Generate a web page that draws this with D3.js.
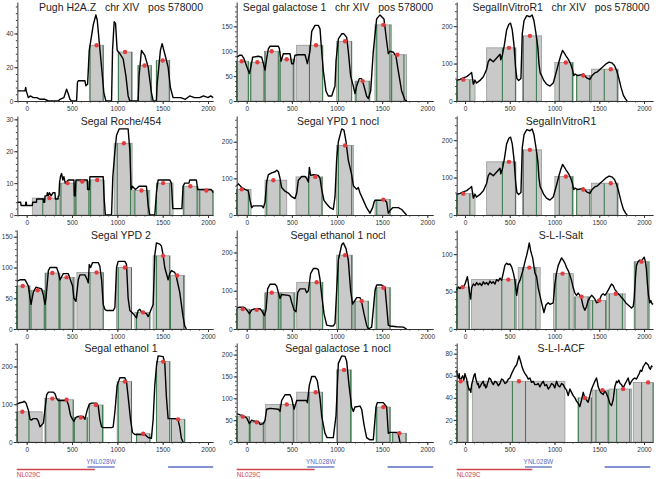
<!DOCTYPE html>
<html><head><meta charset="utf-8">
<script src="https://cdn.jsdelivr.net/npm/d3@7"></script>
<style>body{margin:0;background:#fff} text{font-family:"Liberation Sans",Arial,sans-serif}</style>
</head><body><svg id="c" width="660" height="479"></svg>
<script>
// ---------- DATA ----------
const panelTitles = [
  "Pugh H2A.Z   chr XIV   pos 578000", "Segal galactose 1   chr XIV   pos 578000", "SegalInVitroR1   chr XIV   pos 578000",
  "Segal Roche/454", "Segal YPD 1 nocl", "SegalInVitroR1",
  "Segal YPD 2", "Segal ethanol 1 nocl", "S-L-I-Salt",
  "Segal ethanol 1", "Segal galactose 1 nocl", "S-L-I-ACF"
];
const xTickLabels = [0, 500, 1000, 1500, 2000];
const yTickStep = [20, 50, 100, 10, 100, 100, 50, 100, 50, 100, 50, 20];

// occupancy profiles: [position, value]
const profPugh = [[-103,6],[-18,6],[-11,8],[-5,6],[18,2],[40,3],[73,2],[110,2],[150,1],[202,1],[239,0],[349,0],[367,1],[410,2],[440,7],[460,4],[477,1],[495,0],[550,0],[560,11],[569,12],[642,12],[653,9],[672,10],[690,30],[734,45],[763,51],[778,48],[800,35],[826,20],[851,5],[873,0],[936,0],[947,30],[965,47],[980,46],[998,30],[1028,28],[1064,25],[1094,15],[1119,3],[1138,0],[1229,0],[1240,15],[1266,30],[1303,27],[1340,20],[1376,5],[1395,0],[1431,0],[1439,10],[1475,30],[1494,34],[1523,28],[1560,20],[1585,8],[1615,2],[1700,2],[1750,1],[1798,3],[1850,2],[1908,2],[1950,3],[2000,2],[2030,3],[2057,2]];
const profGal1 = [[-111,88],[-74,92],[-55,92],[-30,85],[0,70],[30,55],[48,70],[66,88],[129,90],[166,88],[185,75],[203,62],[221,85],[240,105],[258,110],[351,110],[362,105],[380,80],[406,95],[480,95],[498,75],[517,75],[535,92],[572,93],[646,93],[672,75],[701,100],[720,140],[756,152],[793,152],[812,145],[830,100],[849,60],[878,20],[904,10],[941,10],[978,30],[989,80],[1015,125],[1052,135],[1077,135],[1107,128],[1125,100],[1151,50],[1181,30],[1199,15],[1218,30],[1247,45],[1273,45],[1299,30],[1328,10],[1347,5],[1373,20],[1402,100],[1439,165],[1476,173],[1520,165],[1550,120],[1568,95],[1587,100],[1624,98],[1653,90],[1679,60],[1716,20],[1753,2],[1775,0]];
const profInVitro = [[-93,55],[-56,58],[-19,62],[19,65],[56,72],[74,76],[93,45],[112,55],[130,48],[167,55],[205,65],[242,85],[260,105],[279,112],[316,105],[354,115],[391,125],[400,110],[420,125],[440,150],[465,190],[490,205],[509,208],[528,190],[547,150],[565,90],[580,60],[600,55],[625,60],[640,180],[660,215],[690,228],[725,225],[750,230],[770,215],[790,185],[805,160],[815,140],[826,100],[840,75],[856,68],[880,55],[911,45],[949,40],[986,48],[1023,80],[1050,105],[1068,120],[1090,135],[1110,128],[1130,120],[1153,112],[1179,100],[1200,85],[1215,68],[1230,72],[1260,68],[1290,70],[1321,72],[1358,62],[1395,58],[1420,68],[1450,75],[1480,78],[1510,85],[1544,92],[1581,100],[1610,104],[1640,102],[1670,95],[1693,82],[1720,60],[1745,35],[1770,15],[1795,5],[1812,0]];
const profRoche = [[-103,4],[-66,4],[-62,3],[-12,3],[-10,4],[-4,4],[-2,3],[62,3],[66,4],[108,4],[110,5],[184,5],[188,4],[198,4],[202,6],[222,6],[228,7],[239,6],[250,7],[270,6],[290,7],[312,7],[316,5],[345,5],[349,6],[356,6],[362,10],[372,12],[385,13],[398,11],[410,12],[425,10],[459,11],[521,11],[525,6],[535,6],[543,11],[668,11],[672,8],[690,8],[697,12],[844,12],[855,5],[868,0],[936,0],[950,12],[973,20],[991,25],[1020,27],[1119,27],[1138,20],[1152,8],[1165,9],[1200,8],[1240,9],[1321,9],[1340,3],[1358,0],[1413,0],[1431,7],[1450,11],[1578,11],[1596,10],[1612,2],[1712,2],[1725,9],[1743,10],[1790,10],[1800,11],[1872,11],[1886,8],[2037,8],[2057,7]];
const profYPD1 = [[-111,80],[-92,85],[-55,75],[-18,70],[18,66],[37,40],[55,20],[74,25],[166,25],[185,20],[203,35],[221,90],[240,110],[277,115],[314,118],[332,122],[351,118],[369,100],[387,75],[424,65],[461,60],[498,50],[535,45],[554,60],[572,95],[609,105],[646,105],[664,100],[683,90],[694,130],[708,108],[738,110],[793,108],[812,100],[830,70],[856,40],[886,30],[923,20],[959,15],[978,50],[996,150],[1015,200],[1052,235],[1077,232],[1100,200],[1125,150],[1162,110],[1181,80],[1218,70],[1236,75],[1255,60],[1292,40],[1328,20],[1365,5],[1395,20],[1410,35],[1421,40],[1531,40],[1550,35],[1568,5],[1587,12],[1616,20],[1679,20],[1716,15],[1753,5],[1771,0]];
const profYPD2 = [[-110,78],[-73,80],[-18,80],[0,75],[18,70],[37,50],[48,40],[73,60],[103,68],[128,67],[165,65],[184,55],[202,40],[213,50],[239,95],[257,100],[330,100],[349,92],[367,80],[385,85],[404,90],[459,90],[477,82],[506,70],[521,50],[543,45],[569,80],[587,88],[642,88],[668,80],[679,75],[690,105],[705,100],[727,108],[789,108],[807,102],[826,80],[844,40],[862,32],[881,30],[954,30],[973,35],[991,100],[1009,110],[1083,110],[1101,105],[1119,50],[1138,30],[1174,25],[1211,18],[1229,30],[1248,32],[1266,28],[1321,25],[1340,20],[1395,40],[1413,120],[1431,140],[1468,138],[1486,135],[1505,120],[1523,100],[1560,80],[1578,90],[1596,95],[1633,92],[1651,85],[1688,60],[1725,20],[1743,5],[1761,0]];
const profEth1nocl = [[-111,55],[-74,57],[-37,57],[-18,55],[0,50],[30,40],[55,50],[92,53],[148,53],[166,48],[196,35],[214,50],[232,105],[258,117],[314,117],[332,112],[351,95],[369,80],[387,90],[461,88],[480,86],[498,70],[524,50],[546,45],[565,95],[590,105],[646,105],[664,95],[683,100],[708,145],[738,158],[775,158],[793,155],[812,130],[830,90],[856,40],[886,10],[923,8],[959,8],[978,15],[996,100],[1015,180],[1052,220],[1070,225],[1100,210],[1125,180],[1151,100],[1173,65],[1199,75],[1218,82],[1255,82],[1273,70],[1299,40],[1328,10],[1347,0],[1384,5],[1421,100],[1439,115],[1494,115],[1513,112],[1531,110],[1550,60],[1568,10],[1587,8],[1661,6],[1734,5],[1771,0]];
const profSalt = [[-93,52],[-74,56],[-56,54],[-37,57],[-19,56],[0,60],[11,64],[26,70],[37,62],[48,50],[63,40],[74,55],[93,60],[112,58],[130,62],[149,59],[167,61],[186,58],[205,63],[223,60],[242,62],[260,59],[279,64],[298,61],[316,63],[335,60],[353,66],[372,64],[391,68],[409,65],[428,75],[446,85],[465,88],[484,86],[502,87],[521,83],[540,75],[558,65],[577,45],[595,60],[614,65],[632,72],[651,80],[670,90],[688,98],[707,108],[718,115],[733,105],[744,100],[756,95],[781,75],[800,70],[818,55],[837,45],[856,35],[882,22],[904,32],[930,35],[949,33],[986,35],[1004,60],[1023,75],[1042,85],[1060,90],[1079,95],[1097,92],[1116,88],[1135,82],[1153,78],[1172,72],[1190,65],[1209,55],[1228,48],[1246,45],[1265,48],[1283,45],[1302,40],[1321,30],[1339,25],[1358,30],[1376,38],[1395,42],[1414,45],[1432,43],[1451,40],[1469,35],[1488,36],[1507,40],[1525,45],[1544,47],[1563,45],[1581,48],[1600,52],[1618,56],[1637,60],[1655,58],[1674,53],[1693,50],[1711,47],[1730,45],[1749,42],[1767,40],[1786,37],[1804,34],[1823,32],[1842,30],[1860,28],[1879,30],[1890,40],[1905,70],[1916,85],[1934,90],[1953,92],[1972,91],[1990,94],[2002,96],[2016,90],[2027,80],[2039,60],[2050,45],[2065,35],[2076,38],[2088,34],[2102,33]];
const profEth1 = [[-110,100],[-73,104],[-37,106],[-29,108],[-7,103],[18,85],[37,60],[55,58],[73,62],[110,62],[128,55],[147,40],[184,50],[220,125],[239,132],[294,132],[312,128],[330,115],[349,110],[440,110],[459,100],[484,70],[506,60],[521,55],[543,65],[569,68],[624,68],[642,60],[668,85],[690,100],[716,103],[771,103],[789,95],[807,60],[826,40],[844,38],[936,38],[954,40],[973,80],[998,150],[1028,170],[1083,170],[1101,160],[1119,120],[1145,60],[1167,25],[1193,20],[1266,20],[1285,18],[1303,20],[1340,12],[1376,10],[1395,60],[1413,150],[1431,200],[1450,228],[1505,226],[1523,210],[1541,120],[1560,62],[1578,62],[1651,62],[1670,58],[1688,40],[1706,10],[1725,0]];
const profGal1nocl = [[-111,65],[-74,62],[-37,60],[0,55],[30,42],[55,50],[74,48],[129,47],[148,40],[185,42],[203,50],[221,75],[260,77],[351,75],[369,70],[387,95],[424,108],[480,108],[498,100],[524,75],[554,95],[600,95],[664,95],[672,90],[694,130],[720,150],[756,150],[782,140],[812,100],[830,60],[867,20],[890,10],[959,10],[989,60],[1015,180],[1052,197],[1089,196],[1107,185],[1133,130],[1162,80],[1181,70],[1199,80],[1255,82],[1273,75],[1299,40],[1328,10],[1365,5],[1402,5],[1432,80],[1446,90],[1513,90],[1550,80],[1568,20],[1587,22],[1661,22],[1679,18],[1697,0]];
const profACF = [[-93,65],[-84,60],[-74,58],[-65,62],[-56,55],[-45,57],[-26,60],[-12,56],[0,62],[10,59],[19,57],[28,52],[37,50],[46,47],[56,48],[65,45],[74,52],[84,55],[93,58],[103,61],[112,62],[121,57],[130,55],[140,52],[149,53],[158,49],[167,50],[186,53],[205,55],[214,51],[223,52],[232,49],[242,50],[251,53],[260,55],[270,58],[286,57],[300,54],[316,52],[335,55],[353,54],[372,51],[391,53],[409,57],[428,56],[446,53],[465,54],[484,57],[502,58],[521,62],[539,65],[558,68],[577,70],[590,74],[603,78],[614,75],[625,72],[638,68],[651,65],[670,62],[688,60],[707,57],[725,58],[744,54],[763,55],[781,52],[800,52],[818,53],[837,50],[856,53],[874,55],[893,51],[911,52],[930,48],[949,50],[967,53],[986,52],[1004,49],[1023,55],[1042,51],[1060,50],[1079,53],[1097,52],[1116,49],[1135,47],[1153,42],[1172,48],[1190,45],[1209,42],[1228,40],[1246,37],[1265,35],[1283,32],[1302,38],[1321,45],[1339,40],[1358,38],[1376,36],[1395,42],[1410,47],[1425,50],[1451,55],[1469,58],[1480,54],[1488,50],[1514,45],[1530,44],[1544,43],[1560,46],[1574,45],[1590,42],[1600,40],[1618,35],[1637,33],[1655,38],[1674,50],[1693,55],[1705,54],[1719,56],[1733,53],[1748,52],[1762,50],[1774,50],[1790,53],[1804,55],[1823,58],[1841,52],[1860,55],[1878,57],[1897,58],[1915,57],[1934,60],[1947,62],[1960,65],[1975,64],[1990,68],[2005,70],[2020,72],[2033,71],[2046,70],[2060,67],[2072,66],[2084,69],[2094,68]];

// nucleosome calls: [boxStart, boxEnd, height, centre, dotShown]
const nucPugh = [[698,844,33,771,1],[1010,1163,29,1085,1],[1229,1376,21,1300,1],[1431,1578,24,1500,1]];
const nucGal1 = [[-111,20,80,-55,1],[37,196,78,118,1],[196,369,100,277,1],[369,535,84,443,1],[553,841,112,768,1],[996,1162,120,1089,1],[1199,1365,40,1284,1],[1420,1605,153,1513,1],[1605,1771,93,1668,1]];
const nucInVitro = [[-93,112,57,-19,1],[242,569,142,491,1],[644,856,174,725,1],[1004,1209,103,1127,1],[1246,1414,68,1321,1],[1414,1711,85,1629,1]];
const nucRoche = [[62,367,5.3,250,1],[367,543,10,451,1],[543,690,10.5,613,1],[690,851,11,778,1],[965,1163,22.5,1072,1],[1174,1358,7.7,1266,1],[1431,1615,10,1505,1],[1725,1890,9,1806,1],[1890,2055,7.7,1982,1]];
const nucYPD1 = [[-111,48,70,-55,1],[203,443,95,295,1],[546,841,104,760,1],[996,1181,190,1089,1],[1421,1594,42,1513,1]];
const nucYPD2 = [[-110,37,70,-44,1],[37,202,63,121,1],[202,367,91,283,1],[367,532,84,440,1],[554,844,92,771,1],[991,1156,100,1083,1],[1193,1358,27,1285,1],[1395,1578,119,1505,1],[1578,1743,87,1659,1]];
const nucEth1nocl = [[-111,30,52,-44,1],[30,196,50,111,1],[203,369,95,277,1],[369,535,95,452,0],[554,841,122,775,1],[996,1170,193,1089,1],[1180,1350,73,1273,1],[1421,1594,108,1513,1]];
const nucSalt = [[-93,48,56,-26,1],[74,577,66,484,1],[595,840,82,718,1],[990,1210,74,1090,1],[1228,1390,43,1302,1],[1395,1580,38,1499,1],[1580,1790,47,1685,1],[1890,2060,90,1972,1]];
const nucEth1 = [[-107,170,80,-48,1],[200,360,115,283,1],[367,514,112,440,1],[521,668,65,598,1],[690,844,98,763,1],[998,1156,160,1083,1],[1210,1360,22,1285,1],[1431,1578,213,1505,1],[1596,1743,60,1670,1]];
const nucGal1nocl = [[-111,30,58,-44,1],[30,200,45,111,1],[210,535,86,443,1],[554,841,114,764,1],[996,1162,165,1078,1],[1432,1590,80,1513,1],[1610,1770,20,1690,1]];
const nucACF = [[-93,37,55,-48,1],[82,1116,55,603,1],[1265,1414,40,1339,1],[1420,1600,47,1536,1],[1610,1860,48,1767,1],[1880,2102,54,2046,1]];

const panelProfiles = [profPugh, profGal1, profInVitro, profRoche, profYPD1, profInVitro, profYPD2, profEth1nocl, profSalt, profEth1, profGal1nocl, profACF];
const panelNucs = [nucPugh, nucGal1, nucInVitro, nucRoche, nucYPD1, nucInVitro, nucYPD2, nucEth1nocl, nucSalt, nucEth1, nucGal1nocl, nucACF];

// gene track
const geneLabels = ["YNL028W", "", "NL029C"];
const geneStart = [670, 1560, -110];
const geneEnd = [970, 2070, 752];
const geneStrand = ["+", "+", "-"];

// ---------- LAYOUT ----------
const colX0 = [26.7, 246.7, 465];
const colX2000 = [208, 427.3, 644];
const colXEnd = [2057, 2066, 2102];
const colTitleX = [121, 338, 561];
const rowBase = [101, 215, 329, 442];
const plotH = 99;

const svg = d3.select("#c");

panelTitles.forEach((title, i) => {
  const r = Math.floor(i / 3), c = i % 3;
  const prof = panelProfiles[i], nucs = panelNucs[i];
  const xs = prof[0][0], xe = colXEnd[c];
  const k = (colX2000[c] - colX0[c]) / 2000;
  const x = d3.scaleLinear().domain([xs, xe]).range([colX0[c] + k * xs, colX0[c] + k * xe]);
  const yMax = d3.max(prof, d => d[1]) * 1.15;
  const y = d3.scaleLinear().domain([0, yMax]).range([rowBase[r], rowBase[r] - plotH]);
  const g = svg.append("g");

  // boxes
  g.selectAll("rect.box").data(nucs).join("rect")
    .attr("x", d => x(d[0])).attr("width", d => x(d[1]) - x(d[0]))
    .attr("y", d => y(d[2])).attr("height", d => y(0) - y(d[2]))
    .attr("fill", "#c9c9c9").attr("stroke", "#979797").attr("stroke-width", 0.8);
  // green nucleosome edges
  const edges = [];
  nucs.forEach(d => {
    const a = Math.max(d[0], d[3] - 73), b = Math.min(d[1], d[3] + 73);
    edges.push([a, d[2]]); edges.push([b, d[2]]);
  });
  g.selectAll("line.edge").data(edges).join("line")
    .attr("x1", d => x(d[0])).attr("x2", d => x(d[0]))
    .attr("y1", y(0)).attr("y2", d => y(d[1]))
    .attr("stroke", "#3f7d50").attr("stroke-width", 1.1);

  // profile
  g.append("path").datum(prof)
    .attr("d", d3.line().x(d => x(d[0])).y(d => y(d[1])))
    .attr("fill", "none").attr("stroke", "#000").attr("stroke-width", 1.4)
    .attr("stroke-linejoin", "round");

  // dots
  g.selectAll("circle").data(nucs.filter(d => d[4])).join("circle")
    .attr("cx", d => x(d[3])).attr("cy", d => y(d[2])).attr("r", 2.2)
    .attr("fill", "#e23c3c");

  // axes
  const step = yTickStep[i];
  const major = d3.range(0, yMax, step);
  const minor = d3.range(0, yMax, step / 5);
  const ya = g.append("g").attr("transform", `translate(${x(xs)},0)`)
    .call(d3.axisLeft(y).tickValues(major).tickSize(3).tickSizeOuter(0).tickFormat(d3.format("d")));
  g.append("g").attr("transform", `translate(${x(xs)},0)`)
    .call(d3.axisLeft(y).tickValues(minor).tickSize(1.5).tickSizeOuter(0).tickFormat(""))
    .select(".domain").remove();
  const xa = g.append("g").attr("transform", `translate(0,${y(0)})`)
    .call(d3.axisBottom(x).tickValues(xTickLabels).tickSize(3).tickSizeOuter(0).tickFormat(d3.format("d")));
  g.append("g").attr("transform", `translate(0,${y(0)})`)
    .call(d3.axisBottom(x).tickValues(d3.range(-100, 2001, 100)).tickSize(1.5).tickSizeOuter(0).tickFormat(""))
    .select(".domain").remove();
  [ya, xa].forEach(a => {
    a.selectAll("text").attr("font-size", 6.5).attr("fill", "#333");
    a.selectAll("line,path").attr("stroke", "#333");
  });
  ya.selectAll("text").attr("x", -4);
  xa.selectAll("text").attr("y", 5);
  svg.selectAll(".tick line").attr("stroke", "#333");

  // title
  g.append("text").attr("x", colTitleX[c]).attr("y", rowBase[r] - 90)
    .attr("text-anchor", "middle").attr("font-size", 10.5).attr("fill", "#222")
    .style("white-space", "pre").text(title);

  // gene track below last row
  if (r === 3) {
    geneLabels.forEach((lab, j) => {
      const a = Math.max(geneStart[j], xs), b = Math.min(geneEnd[j], xe);
      const plus = geneStrand[j] === "+";
      const ly = plus ? 467 : 469.5;
      const col = plus ? "#5b6cc0" : "#d0454a";
      g.append("line").attr("x1", x(a)).attr("x2", x(b)).attr("y1", ly).attr("y2", ly)
        .attr("stroke", col).attr("stroke-width", 1.3);
      if (lab) {
        g.append("text").attr("x", plus ? (x(a) + x(b)) / 2 : x(a))
          .attr("y", plus ? 464 : 477).attr("text-anchor", plus ? "middle" : "start")
          .attr("font-size", 6.5).attr("fill", col).text(lab);
      }
    });
  }
});
</script></body></html>
